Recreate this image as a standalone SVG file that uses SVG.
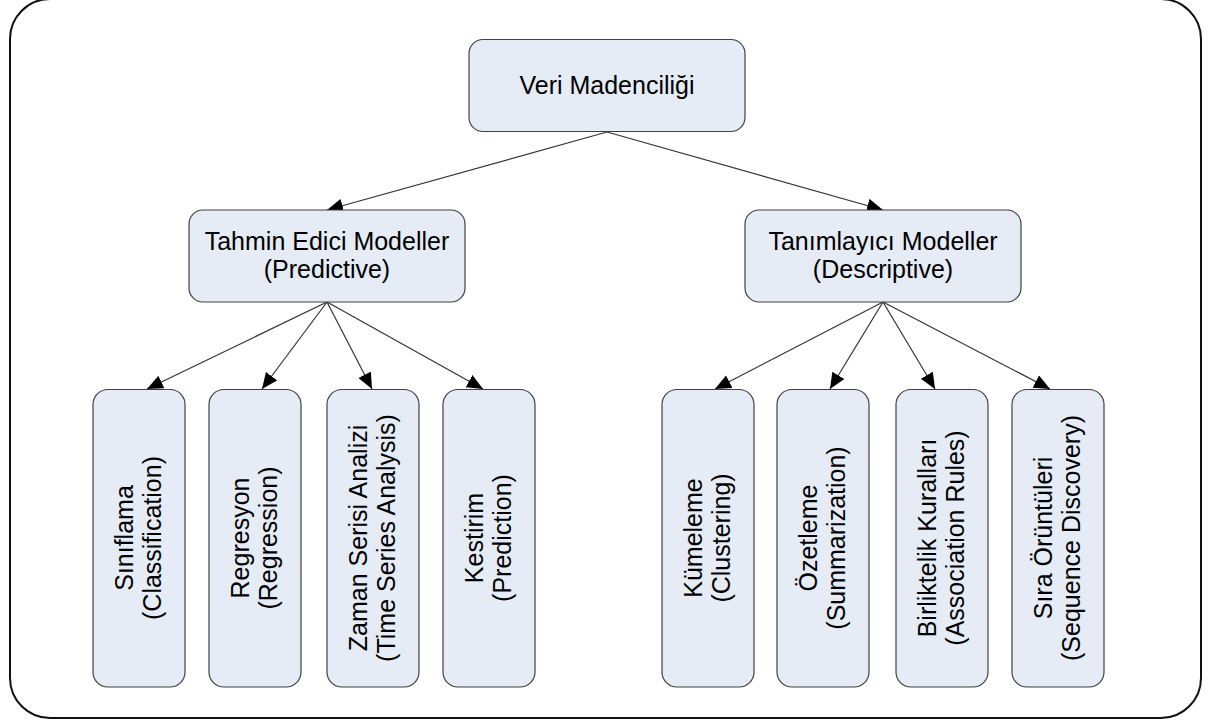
<svg xmlns="http://www.w3.org/2000/svg" width="1211" height="724" viewBox="0 0 1211 724">
  <style>
    .node { fill: #E5ECF6; stroke: #404040; stroke-width: 1.2; }
    .lbl { font-family: "Liberation Sans", Arial, sans-serif; font-size: 25px; fill: #000; text-anchor: middle; }
    .conn { stroke: #333; stroke-width: 1.2; fill: none; marker-end: url(#arrow); }
  </style>
  <defs>
    <marker id="arrow" markerUnits="userSpaceOnUse" markerWidth="17" markerHeight="15" refX="16" refY="7" orient="auto">
      <path d="M0,0 L16,7 L0,14 Z" fill="#000"/>
    </marker>
  </defs>
  <rect x="0" y="0" width="1211" height="724" fill="#fff"/>
  <rect id="frame" x="10" y="-1" width="1191" height="719" rx="40" ry="40" fill="none" stroke="#111" stroke-width="2"/>

  <g id="connectors">
    <line class="conn" x1="607" y1="132" x2="327" y2="210"/>
    <line class="conn" x1="607" y1="132" x2="883" y2="210"/>
    <line class="conn" x1="327" y1="302" x2="147" y2="389"/>
    <line class="conn" x1="327" y1="302" x2="262" y2="389"/>
    <line class="conn" x1="327" y1="302" x2="372" y2="389"/>
    <line class="conn" x1="327" y1="302" x2="483" y2="389"/>
    <line class="conn" x1="883" y1="302" x2="715" y2="389"/>
    <line class="conn" x1="883" y1="302" x2="830" y2="389"/>
    <line class="conn" x1="883" y1="302" x2="935" y2="389"/>
    <line class="conn" x1="883" y1="302" x2="1050" y2="389"/>
  </g>

  <g id="veri">
    <rect class="node" x="469" y="39.5" width="276" height="92" rx="14"/>
    <text class="lbl" x="607" y="94">Veri Madenciliği</text>
  </g>
  <g id="tahmin">
    <rect class="node" x="189" y="210" width="276" height="92" rx="14"/>
    <text class="lbl"><tspan x="327" y="250">Tahmin Edici Modeller</tspan><tspan x="327" y="278">(Predictive)</tspan></text>
  </g>
  <g id="tanimlayici">
    <rect class="node" x="745" y="210" width="276" height="92" rx="14"/>
    <text class="lbl"><tspan x="883" y="250">Tanımlayıcı Modeller</tspan><tspan x="883" y="278">(Descriptive)</tspan></text>
  </g>

  <g id="siniflama">
    <rect class="node" x="93" y="389.5" width="92" height="297.5" rx="15"/>
    <text class="lbl" transform="translate(139,538) rotate(-90)"><tspan x="0" y="-6">Sınıflama</tspan><tspan x="0" y="22">(Classification)</tspan></text>
  </g>
  <g id="regresyon">
    <rect class="node" x="209" y="389.5" width="92" height="297.5" rx="15"/>
    <text class="lbl" transform="translate(255,538) rotate(-90)"><tspan x="0" y="-6">Regresyon</tspan><tspan x="0" y="22">(Regression)</tspan></text>
  </g>
  <g id="zaman">
    <rect class="node" x="327" y="389.5" width="92" height="297.5" rx="15"/>
    <text class="lbl" transform="translate(373,538) rotate(-90)"><tspan x="0" y="-6">Zaman Serisi Analizi</tspan><tspan x="0" y="22">(Time Series Analysis)</tspan></text>
  </g>
  <g id="kestirim">
    <rect class="node" x="443" y="389.5" width="92" height="297.5" rx="15"/>
    <text class="lbl" transform="translate(489,538) rotate(-90)"><tspan x="0" y="-6">Kestirim</tspan><tspan x="0" y="22">(Prediction)</tspan></text>
  </g>

  <g id="kumeleme">
    <rect class="node" x="662" y="389.5" width="92" height="297.5" rx="15"/>
    <text class="lbl" transform="translate(708,538) rotate(-90)"><tspan x="0" y="-6">Kümeleme</tspan><tspan x="0" y="22">(Clustering)</tspan></text>
  </g>
  <g id="ozetleme">
    <rect class="node" x="777" y="389.5" width="92" height="297.5" rx="15"/>
    <text class="lbl" transform="translate(823,538) rotate(-90)"><tspan x="0" y="-6">Özetleme</tspan><tspan x="0" y="22">(Summarization)</tspan></text>
  </g>
  <g id="birliktelik">
    <rect class="node" x="896" y="389.5" width="92" height="297.5" rx="15"/>
    <text class="lbl" transform="translate(942,538) rotate(-90)"><tspan x="0" y="-6">Birliktelik Kuralları</tspan><tspan x="0" y="22">(Association Rules)</tspan></text>
  </g>
  <g id="sira">
    <rect class="node" x="1012" y="389.5" width="92" height="297.5" rx="15"/>
    <text class="lbl" transform="translate(1058,538) rotate(-90)"><tspan x="0" y="-6">Sıra Örüntüleri</tspan><tspan x="0" y="22">(Sequence Discovery)</tspan></text>
  </g>
</svg>
